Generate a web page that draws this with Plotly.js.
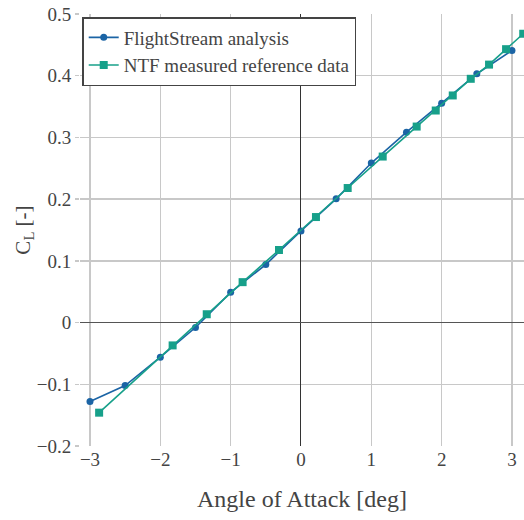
<!DOCTYPE html>
<html>
<head>
<meta charset="utf-8">
<script src="https://cdn.plot.ly/plotly-3.0.1.min.js"></script>
<style>html,body{margin:0;padding:0;background:#fff;}#chart{width:524px;height:520px;}</style>
</head>
<body>
<div id="chart"></div>
<script>
const fsAlpha = [-3.0, -2.5, -2.0, -1.5, -1.0, -0.5, 0.0, 0.5, 1.0, 1.5, 2.0, 2.5, 3.0];
const fsCL = [-0.128, -0.102, -0.056, -0.008, 0.049, 0.094, 0.1485, 0.2005, 0.2585, 0.3085, 0.3555, 0.403, 0.441];
const ntfAlpha = [-2.87, -1.825, -1.34, -0.83, -0.313, 0.213, 0.664, 1.162, 1.645, 1.916, 2.158, 2.414, 2.674, 2.916, 3.16];
const ntfCL = [-0.146, -0.037, 0.0135, 0.0655, 0.1176, 0.171, 0.218, 0.269, 0.3176, 0.3436, 0.368, 0.395, 0.418, 0.443, 0.468];
const xTicks = [-3, -2, -1, 0, 1, 2, 3];
const yTicks = [-0.2, -0.1, 0, 0.1, 0.2, 0.3, 0.4, 0.5];
const yTickText = ['\u22120.2', '\u22120.1', '0', '0.1', '0.2', '0.3', '0.4', '0.5'];
const xTickText = ['\u22123', '\u22122', '\u22121', '0', '1', '2', '3'];

const blue = '#1b64a5';
const green = '#17a08a';
const FAM = 'Liberation Serif';

const traces = [
  {x: fsAlpha, y: fsCL, name: 'FlightStream analysis', type: 'scatter', mode: 'lines+markers',
   line: {color: blue, width: 1.6}, marker: {color: blue, size: 7, symbol: 'circle'}},
  {x: ntfAlpha, y: ntfCL, name: 'NTF measured reference data', type: 'scatter', mode: 'lines+markers',
   line: {color: green, width: 1.6}, marker: {color: green, size: 8, symbol: 'square'}}
];

const layout = {
  width: 524, height: 520,
  margin: {l: 80, r: 0, t: 14, b: 74},
  paper_bgcolor: '#fff', plot_bgcolor: '#fff',
  font: {family: FAM, color: '#444', size: 19},
  showlegend: true,
  legend: {x: 0.005, y: 0.993, xanchor: 'left', yanchor: 'top', bgcolor: '#fff',
           bordercolor: '#444', borderwidth: 1.5, font: {family: FAM, size: 19, color: '#444'},
           tracegroupgap: 0},
  xaxis: {range: [-3.142, 3.171], tickvals: xTicks, ticktext: xTickText,
          showgrid: true, gridcolor: '#c8c8c8', gridwidth: 1.5,
          zeroline: true, zerolinecolor: '#333', zerolinewidth: 1,
          showline: false, ticks: '',
          tickfont: {family: FAM, size: 19, color: '#444'},
          title: {text: 'Angle of Attack [deg]', font: {family: FAM, size: 24, color: '#444'}, standoff: 21}},
  yaxis: {range: [-0.2, 0.5], tickvals: yTicks, ticktext: yTickText,
          showgrid: true, gridcolor: '#c8c8c8', gridwidth: 1.5,
          zeroline: true, zerolinecolor: '#555', zerolinewidth: 1.5,
          showline: false, ticks: 'outside', ticklen: 4, tickcolor: '#c8c8c8', tickwidth: 1.5,
          tickfont: {family: FAM, size: 19, color: '#444'},
          title: {text: 'C<sub>L</sub> [-]', font: {family: FAM, size: 21, color: '#444'}, standoff: 0}}
};

Plotly.newPlot('chart', traces, layout, {displayModeBar: false, staticPlot: true});
</script>
</body>
</html>
